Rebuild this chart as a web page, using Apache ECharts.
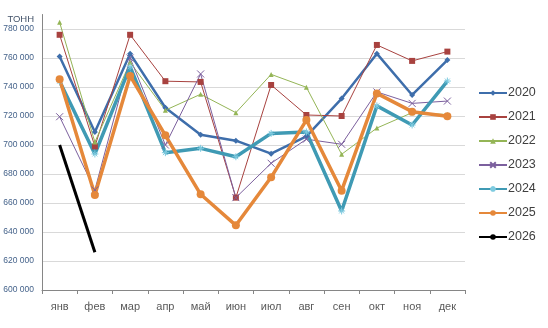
<!DOCTYPE html>
<html>
<head>
<meta charset="utf-8">
<script src="https://cdn.jsdelivr.net/npm/echarts@6/dist/echarts.min.js"></script>
<style>
  html, body { margin: 0; padding: 0; background: #fff; }
  #chart { width: 548px; height: 328px; }
</style>
</head>
<body>
<div id="chart"></div>
<script>
// Monthly volumes, tonnes
var months = ['янв', 'фев', 'мар', 'апр', 'май', 'июн', 'июл', 'авг', 'сен', 'окт', 'ноя', 'дек'];
var years = ['2020', '2021', '2022', '2023', '2024', '2025', '2026'];

var v2020 = [761000, 709000, 763000, 725700, 707000, 703000, 694000, 706000, 732000, 763000, 734500, 758600];
var v2021 = [776000, 699000, 776000, 744000, 743500, 663700, 741400, 720700, 720000, 769000, 758000, 764400];
var v2022 = [784600, 702000, 757000, 724000, 735000, 722300, 748700, 739800, 693600, 711700, 722300, 721000];
var v2023 = [719500, 669000, 760000, 700000, 749000, 663700, 687400, 704000, 700500, 736600, 728700, 730300];
var v2024 = [744000, 693800, 754000, 694700, 697700, 691900, 708000, 709000, 654500, 727000, 713800, 744100];
var v2025 = [745300, 665500, 747600, 706700, 666000, 644600, 677700, 717200, 668500, 735600, 723000, 719800];
var v2026 = [700000, 626000];

var yMin = 600000, yMax = 790000, yStep = 20000;

var crossPath = 'path://M0,0L10,10M10,0L0,10';
var asteriskPath = 'path://M5,0L5,10M0,5L10,5M1.5,1.5L8.5,8.5M8.5,1.5L1.5,8.5';

function line(name, data, color, width, symbol, size, markStyle) {
  return {
    name: name,
    type: 'line',
    data: data,
    symbol: symbol,
    symbolSize: size,
    showSymbol: symbol !== 'none',
    lineStyle: { color: color, width: width },
    itemStyle: Object.assign({ color: color }, markStyle || {}),
    emphasis: { disabled: true },
    animation: false
  };
}

// Split lines: one per tick from 600 000 to 780 000, the last (the 790 000 edge) hidden
var splitColors = [];
for (var i = 0; i < 10; i++) splitColors.push('#d9d9d9');
splitColors.push('rgba(0,0,0,0)');

var chart = echarts.init(document.getElementById('chart'), null, { renderer: 'canvas' });
chart.setOption({
  backgroundColor: '#ffffff',
  grid: { left: 42, right: 83, top: 14.5, bottom: 38, containLabel: false },
  legend: {
    orient: 'vertical',
    left: 473,
    top: 81,
    itemWidth: 28,
    itemHeight: 7,
    itemGap: 10,
    data: years,
    textStyle: { fontFamily: 'Liberation Sans, Arial, sans-serif', fontSize: 12.5, lineHeight: 14, color: '#404040', padding: [0, 0, 0, -4] }
  },
  xAxis: {
    type: 'category',
    data: months,
    boundaryGap: true,
    axisLine: { show: true, lineStyle: { color: '#868686', width: 1 } },
    axisTick: { show: true, alignWithLabel: false, length: 4, lineStyle: { color: '#868686' } },
    axisLabel: { margin: 11, fontFamily: 'Liberation Sans, Arial, sans-serif', fontSize: 11, color: '#595959' },
    splitLine: { show: false }
  },
  yAxis: {
    type: 'value',
    min: yMin,
    max: yMax,
    interval: yStep,
    name: 'ТОНН',
    nameLocation: 'end',
    nameGap: -5.5,
    nameTextStyle: { fontFamily: 'Liberation Sans, Arial, sans-serif', fontSize: 9.5, color: '#44546a', align: 'right', verticalAlign: 'middle', padding: [0, 8, 0, 0] },
    axisLine: { show: true, lineStyle: { color: '#868686', width: 1 } },
    axisTick: { show: false },
    axisLabel: {
      margin: 8,
      showMaxLabel: false,
      fontFamily: 'Liberation Sans, Arial, sans-serif',
      fontSize: 8.5,
      color: '#44628a',
      formatter: function (v) {
        if (v % yStep !== 0) return '';
        return String(v).replace(/\B(?=(\d{3})+(?!\d))/g, ' ');
      }
    },
    splitLine: { show: true, lineStyle: { color: splitColors, width: 1 } }
  },
  series: [
    line('2020', v2020, '#3e6eab', 2.5, 'diamond', 6),
    line('2021', v2021, '#a8423f', 1, 'rect', 6),
    line('2022', v2022, '#94b556', 1, 'triangle', 5),
    line('2023', v2023, '#7c609e', 1, crossPath, 7, { color: '#7c609e', borderColor: '#7c609e', borderWidth: 1 }),
    line('2024', v2024, '#3f9ab4', 3.5, asteriskPath, 7, { color: '#7fcbe0', borderColor: '#7fcbe0', borderWidth: 1 }),
    line('2025', v2025, '#e5883a', 3.5, 'circle', 8),
    line('2026', v2026, '#000000', 3, 'none', 0)
  ]
});
</script>
</body>
</html>
